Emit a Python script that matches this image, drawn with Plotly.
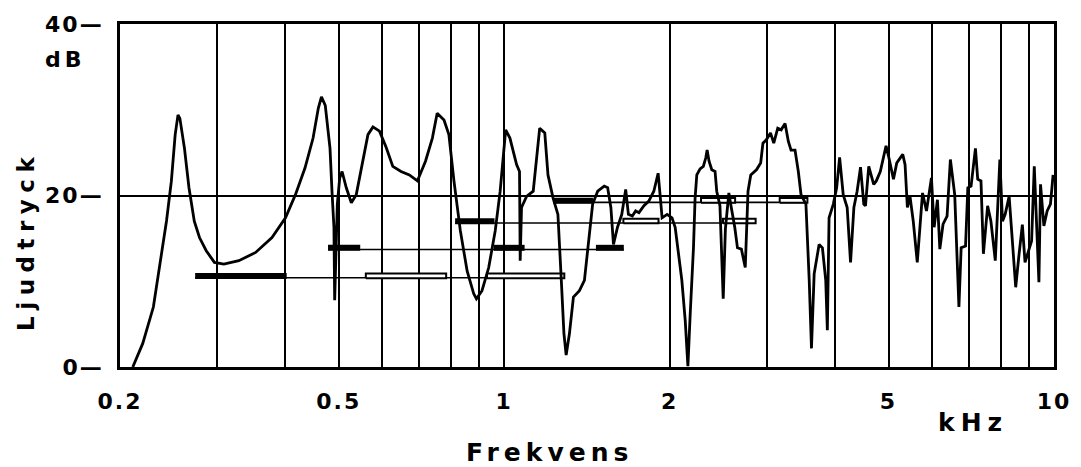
import numpy as np
import plotly.graph_objects as go

# ---------------- data ----------------
freq_khz = [
    0.211, 0.220, 0.230, 0.238, 0.243, 0.248, 0.252, 0.255, 0.257, 0.262,
    0.267, 0.273, 0.279, 0.287, 0.297, 0.309, 0.329, 0.353, 0.378, 0.400,
    0.417, 0.434, 0.449, 0.459, 0.465, 0.4725, 0.482, 0.486, 0.490, 0.4915,
    0.497, 0.502, 0.507, 0.516, 0.527, 0.538, 0.553, 0.565, 0.577, 0.593,
    0.609, 0.627, 0.649, 0.672, 0.695, 0.719, 0.740, 0.755, 0.777, 0.793,
    0.810, 0.832, 0.856, 0.880, 0.890, 0.911, 0.937, 0.963, 0.983, 0.997,
    1.006, 1.024, 1.053, 1.066, 1.069, 1.075, 1.098, 1.129, 1.145, 1.160,
    1.185, 1.201, 1.227, 1.252, 1.270, 1.284, 1.296, 1.314, 1.336, 1.370,
    1.399, 1.419, 1.448, 1.479, 1.520, 1.542, 1.563, 1.580, 1.607, 1.636,
    1.663, 1.682, 1.710, 1.734, 1.758, 1.795, 1.832, 1.871, 1.905, 1.923,
    1.937, 1.978, 2.019, 2.046, 2.075, 2.104, 2.134, 2.158, 2.179, 2.209,
    2.224, 2.240, 2.271, 2.302, 2.326, 2.339, 2.358, 2.385, 2.418, 2.435,
    2.468, 2.502, 2.525, 2.562, 2.588, 2.626, 2.656, 2.700, 2.744, 2.776,
    2.808, 2.876, 2.927, 2.955, 2.997, 3.050, 3.092, 3.144, 3.189, 3.242,
    3.287, 3.324, 3.380, 3.427, 3.466, 3.538, 3.587, 3.621, 3.662, 3.739,
    3.791, 3.844, 3.870, 3.898, 3.968, 4.024, 4.074, 4.136, 4.205, 4.265,
    4.325, 4.384, 4.447, 4.508, 4.540, 4.603, 4.699, 4.751, 4.831, 4.949,
    5.000, 5.105, 5.176, 5.307, 5.359, 5.411, 5.471, 5.546, 5.640, 5.766,
    5.862, 5.985, 6.053, 6.137, 6.199, 6.283, 6.390, 6.479, 6.598, 6.715,
    6.778, 6.904, 6.970, 7.066, 7.196, 7.265, 7.365, 7.440, 7.573, 7.678,
    7.820, 7.971, 8.060, 8.150, 8.287, 8.402, 8.518, 8.640, 8.759, 8.857,
    9.006, 9.104, 9.207, 9.388, 9.451, 9.585, 9.718, 9.853, 9.962,
]
level_db = [
    0.0, 2.75, 6.99, 13.17, 17.03, 21.67, 27.1, 29.4, 29.0, 25.5,
    20.9, 17.0, 15.1, 13.56, 12.2, 12.0, 12.4, 13.36, 15.1, 17.4,
    20.1, 23.2, 26.7, 30.2, 31.5, 30.5, 25.5, 20.5, 16.3, 7.8,
    19.0, 22.05, 22.8, 20.9, 19.15, 20.1, 24.0, 27.1, 28.0, 27.5,
    25.7, 23.4, 22.8, 22.4, 21.7, 24.0, 26.7, 29.6, 28.8, 27.1,
    21.7, 15.9, 11.2, 8.54, 7.96, 8.9, 11.6, 15.9, 20.5, 25.5,
    27.66, 26.7, 23.6, 22.8, 12.4, 18.6, 19.9, 20.5, 24.4, 27.85,
    27.3, 22.4, 19.7, 17.8, 10.1, 3.9, 1.4, 3.9, 8.15, 8.9,
    10.1, 13.9, 19.0, 20.5, 21.1, 20.9, 18.6, 14.3, 16.3, 17.8,
    20.7, 17.8, 17.6, 18.2, 18.0, 18.8, 19.35, 20.5, 22.6, 19.7,
    17.4, 17.8, 17.4, 16.3, 13.2, 10.1, 5.4, 0.1, 6.2, 13.9,
    19.7, 22.4, 23.1, 23.4, 24.4, 25.3, 24.0, 23.0, 22.8, 20.5,
    18.8, 7.96, 16.1, 20.3, 18.6, 16.3, 13.9, 13.75, 11.6, 20.5,
    22.4, 23.0, 23.8, 26.1, 26.5, 27.3, 26.1, 27.85, 27.66, 28.4,
    26.3, 25.3, 25.3, 22.8, 20.1, 19.0, 10.1, 2.17, 10.86, 14.3,
    13.9, 10.1, 4.3, 17.4, 19.0, 20.9, 24.45, 20.1, 18.6, 12.2,
    18.6, 20.5, 23.3, 19.0, 18.8, 23.4, 21.3, 21.7, 22.8, 25.8,
    24.6, 21.9, 23.8, 24.8, 23.6, 18.6, 19.9, 17.0, 12.2, 20.3,
    18.2, 22.05, 16.3, 19.5, 13.75, 16.65, 17.6, 24.2, 20.1, 7.0,
    13.9, 14.1, 20.9, 21.1, 25.5, 21.9, 21.7, 13.2, 18.8, 17.0,
    12.4, 24.2, 17.0, 17.8, 19.9, 15.1, 9.3, 13.2, 16.6, 12.2,
    13.9, 14.7, 23.4, 9.9, 21.3, 16.45, 18.2, 19.0, 22.4,
]

# band levels (bars): lower / upper frequency, level, kind
band_lo = [0.274, 0.560, 0.930, 0.478, 0.957, 1.468, 0.814, 1.647, 2.50, 1.228, 2.28, 3.17]
band_hi = [0.402, 0.784, 1.286, 0.547, 1.089, 1.650, 0.960, 1.908, 2.866, 1.45, 2.63, 3.56]
band_db = [10.6, 10.6, 10.6, 13.9, 13.9, 13.9, 17.0, 17.0, 17.0, 19.4, 19.4, 19.4]
band_kind = ["filled", "open", "open", "filled", "filled", "filled",
             "filled", "open", "open", "filled", "open", "open"]

x_tickvals = [0.2, 0.3, 0.4, 0.5, 0.6, 0.7, 0.8, 0.9, 1, 2, 3, 4, 5, 6, 7, 8, 9, 10]
x_ticktext = ["0.2", "", "", "0.5", "", "", "", "", "1", "2", "", "", "5", "", "", "", "", "10"]
y_tickvals = [0, 20, 40]
y_ticktext = ["0—", "20—", "40—"]

# ---------------- figure ----------------
fig = go.Figure()

# connector lines for each level group
levels = sorted(set(band_db))
for lv in levels:
    idx = [i for i, b in enumerate(band_db) if b == lv]
    lo = min(band_lo[i] for i in idx)
    hi = max(band_hi[i] for i in idx)
    fig.add_trace(go.Scatter(x=[lo, hi], y=[lv - 0.2, lv - 0.2], mode="lines",
                             line=dict(color="black", width=1.6), hoverinfo="skip",
                             showlegend=False))

# bars
for lo, hi, lv, kind in zip(band_lo, band_hi, band_db, band_kind):
    if kind == "filled":
        fig.add_trace(go.Scatter(x=[lo, hi], y=[lv, lv], mode="lines",
                                 line=dict(color="black", width=6), hoverinfo="skip",
                                 showlegend=False))
    else:
        fig.add_trace(go.Scatter(x=[lo, hi, hi, lo, lo],
                                 y=[lv - 0.25, lv - 0.25, lv + 0.3, lv + 0.3, lv - 0.25],
                                 mode="lines", fill="toself", fillcolor="white",
                                 line=dict(color="black", width=2), hoverinfo="skip",
                                 showlegend=False))

# response curve
fig.add_trace(go.Scatter(x=freq_khz, y=level_db, mode="lines",
                         line=dict(color="black", width=2.8, shape="linear"),
                         hoverinfo="skip", showlegend=False))

tickfont = dict(family="DejaVu Sans", size=22, color="black", weight="bold")

fig.update_xaxes(type="log", range=[np.log10(0.2), np.log10(10)],
                 tickmode="array", tickvals=x_tickvals, ticktext=x_ticktext,
                 showgrid=True, gridcolor="black", gridwidth=1.8,
                 showline=True, linecolor="black", linewidth=2.8, mirror=True,
                 zeroline=False, ticks="", tickfont=tickfont, ticklabelstandoff=13)
fig.update_yaxes(range=[0, 40], tickmode="array", tickvals=y_tickvals, ticktext=y_ticktext,
                 showgrid=True, gridcolor="black", gridwidth=1.6,
                 showline=True, linecolor="black", linewidth=2.8, mirror=True,
                 zeroline=False, ticks="", tickfont=tickfont, ticklabelstandoff=9)

afont = dict(family="DejaVu Sans", color="black", weight="bold")
fig.add_annotation(text="Ljudtryck", xref="paper", yref="paper", x=-0.1008, y=0.368,
                   textangle=-90, showarrow=False, font=dict(afont, size=23),
                   xanchor="center", yanchor="middle")
fig.add_annotation(text="Frekvens", xref="paper", yref="paper", x=0.4597, y=-0.25,
                   showarrow=False, font=dict(afont, size=25),
                   xanchor="center", yanchor="middle")
fig.add_annotation(text="kHz", xref="paper", yref="paper", x=0.913, y=-0.1623,
                   showarrow=False, font=dict(afont, size=25),
                   xanchor="center", yanchor="middle")
fig.add_annotation(text="dB", xref="paper", yref="paper", x=-0.0584, y=0.8957,
                   showarrow=False, font=dict(afont, size=22),
                   xanchor="center", yanchor="middle")

fig.update_layout(width=1081, height=467, margin=dict(l=120, r=19, t=22, b=100),
                  paper_bgcolor="white", plot_bgcolor="white", showlegend=False)

post = """
var gd = document.getElementById('{plot_id}');
var sp = {'Frekvens':'5px','Ljudtryck':'6.5px','kHz':'6px','dB':'4px'};
gd.querySelectorAll('text.annotation-text').forEach(function(t){
  var v = sp[t.textContent]; if (v) { t.setAttribute('letter-spacing', v); }
});
gd.querySelectorAll('g.xtick text').forEach(function(t){
  t.setAttribute('letter-spacing', '2px');
});
gd.querySelectorAll('g.ytick text').forEach(function(t){
  t.setAttribute('letter-spacing', '2px');
});
"""

fig.write_html("out.html", config={"displayModeBar": False}, post_script=post)
